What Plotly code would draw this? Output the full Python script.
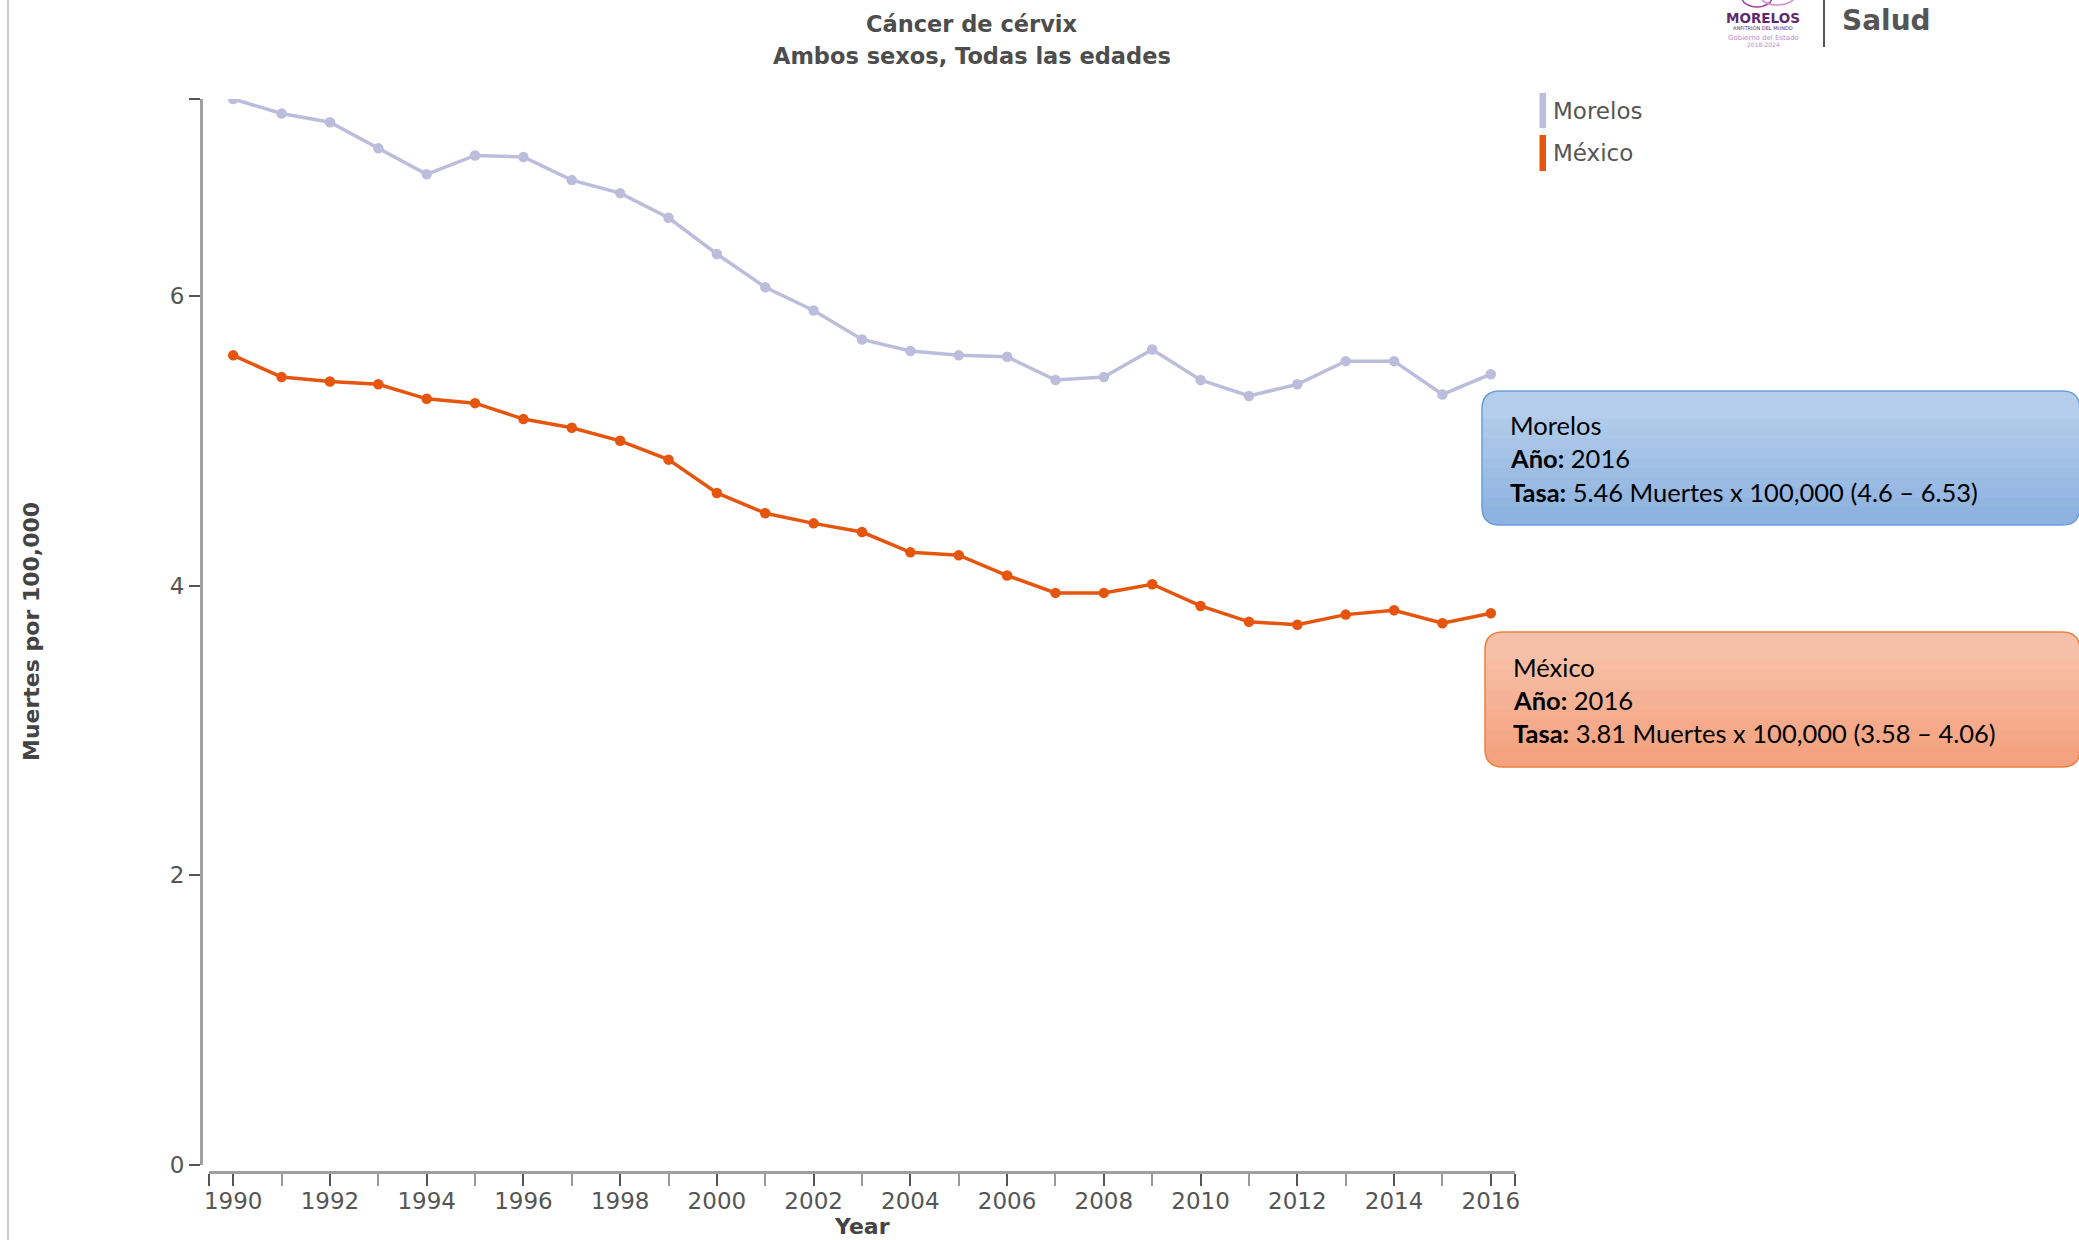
import plotly.graph_objects as go

# datos
years = list(range(1990, 2017))
morelos = [7.36, 7.26, 7.20, 7.02, 6.84, 6.97, 6.96, 6.80, 6.71, 6.54, 6.29, 6.06, 5.90, 5.70,
           5.62, 5.59, 5.58, 5.42, 5.44, 5.63, 5.42, 5.31, 5.39, 5.55, 5.55, 5.32, 5.46]
mexico = [5.59, 5.44, 5.41, 5.39, 5.29, 5.26, 5.15, 5.09, 5.00, 4.87, 4.64, 4.50, 4.43, 4.37,
          4.23, 4.21, 4.07, 3.95, 3.95, 4.01, 3.86, 3.75, 3.73, 3.80, 3.83, 3.74, 3.81]
morelos_ci = (4.6, 6.53)
mexico_ci = (3.58, 4.06)
series_names = ['Morelos', 'México']
y_ticks = [0, 2, 4, 6]
x_tick_years = list(range(1990, 2017, 2))

COLORS = ['#bcbddc', '#e6550d']
TEXT = '#555555'

W, H = 2079, 1240
ML, MR, MT, MB = 201, 564, 99, 68
PW, PH = W - ML - MR, H - MT - MB


def px(x):
    return (x - ML) / PW


def py(y):
    return (H - MB - y) / PH


def box_path(x0, y0, x1, y1, r, round_bottom=True):
    rx, ry = r / PW, r / PH
    X0, X1, Y0, Y1 = px(x0), px(x1), py(y0), py(y1)
    p = f"M {X0 + rx},{Y0} L {X1 - rx},{Y0} Q {X1},{Y0} {X1},{Y0 - ry} "
    if round_bottom:
        p += f"L {X1},{Y1 + ry} Q {X1},{Y1} {X1 - rx},{Y1} L {X0 + rx},{Y1} Q {X0},{Y1} {X0},{Y1 + ry} "
    else:
        p += f"L {X1},{Y1} L {X0},{Y1} "
    p += f"L {X0},{Y0 - ry} Q {X0},{Y0} {X0 + rx},{Y0} Z"
    return p


def mix(c1, c2, t):
    a = [int(c1[i:i + 2], 16) for i in (1, 3, 5)]
    b = [int(c2[i:i + 2], 16) for i in (1, 3, 5)]
    return 'rgb(%d,%d,%d)' % tuple(round(a[k] + (b[k] - a[k]) * t) for k in range(3))


def tooltip_shapes(x0, y0, x1, y1, top, bottom, border, r=18, steps=10):
    # degradado vertical aproximado con capas
    shapes = [dict(type='path', xref='paper', yref='paper', path=box_path(x0, y0, x1, y1, r),
                   fillcolor=bottom, line=dict(width=0), layer='above')]
    for k in range(steps):
        t = k / steps
        yb = y1 - r - (y1 - r - y0 - r) * t
        shapes.append(dict(type='path', xref='paper', yref='paper',
                           path=box_path(x0, y0, x1, yb, r, round_bottom=False),
                           fillcolor=mix(bottom, top, (k + 1) / steps), line=dict(width=0), layer='above'))
    shapes.append(dict(type='path', xref='paper', yref='paper', path=box_path(x0, y0, x1, y1, r),
                       fillcolor='rgba(0,0,0,0)', line=dict(color=border, width=1.5), layer='above'))
    return shapes


fig = go.Figure()
for name, vals, col in zip(series_names, [morelos, mexico], COLORS):
    fig.add_trace(go.Scatter(x=years, y=vals, name=name, mode='lines+markers',
                             line=dict(color=col, width=3.5),
                             marker=dict(color=col, size=10.5), showlegend=False))

shapes = []
# borde gris izquierdo de la captura
shapes.append(dict(type='line', xref='paper', yref='paper', x0=px(8), x1=px(8), y0=py(0), y1=py(H),
                   line=dict(color='#cccccc', width=2)))
# leyenda
shapes.append(dict(type='rect', xref='paper', yref='paper', x0=px(1539.5), x1=px(1546), y0=py(93), y1=py(128),
                   fillcolor=COLORS[0], line=dict(width=0)))
shapes.append(dict(type='rect', xref='paper', yref='paper', x0=px(1539.5), x1=px(1546), y0=py(135), y1=py(171),
                   fillcolor=COLORS[1], line=dict(width=0)))
# logo
shapes.append(dict(type='line', xref='paper', yref='paper', x0=px(1824), x1=px(1824), y0=py(0), y1=py(47),
                   line=dict(color='#555555', width=2)))
shapes.append(dict(type='circle', xref='paper', yref='paper', x0=px(1742), x1=px(1772), y0=py(-12), y1=py(7),
                   line=dict(color='#a43c9c', width=1.5)))
shapes.append(dict(type='circle', xref='paper', yref='paper', x0=px(1760), x1=px(1795), y0=py(-14), y1=py(5),
                   line=dict(color='#d58fcf', width=1.5)))
# cajas de tooltip
shapes += tooltip_shapes(1482, 391, 2080, 525, '#b3cdea', '#8fb3e0', '#6a9fd8')
shapes += tooltip_shapes(1485, 632, 2080, 767, '#f6c0a8', '#f4a27f', '#ee8040')

ann = []
ann.append(dict(text='<b>Cáncer de cérvix</b>', x=px(972), y=py(24),
                font=dict(size=22.5, color='#4d4d4d', family='DejaVu Sans'), xanchor='center', yanchor='middle'))
ann.append(dict(text='<b>Ambos sexos, Todas las edades</b>', x=px(972), y=py(56),
                font=dict(size=22.5, color='#4d4d4d', family='DejaVu Sans'), xanchor='center', yanchor='middle'))
ann.append(dict(text='<b>Muertes por 100,000</b>', x=px(31), y=py(632), textangle=-90,
                font=dict(size=22, color='#444444', family='DejaVu Sans'), xanchor='center', yanchor='middle'))
ann.append(dict(text='<b>Year</b>', x=px(862), y=py(1226),
                font=dict(size=22, color='#444444', family='DejaVu Sans'), xanchor='center', yanchor='middle'))
for name, yc in zip(series_names, [111, 153]):
    ann.append(dict(text=name, x=px(1551), y=py(yc), font=dict(size=23, color=TEXT, family='DejaVu Sans'),
                    xanchor='left', yanchor='middle'))

# logo Morelos / Salud
ann.append(dict(text='<b>MORELOS</b>', x=px(1763), y=py(18), font=dict(size=13.5, color='#5d2a6e', family='DejaVu Sans'),
                xanchor='center', yanchor='middle'))
ann.append(dict(text='ANFITRIÓN DEL MUNDO', x=px(1763), y=py(28), font=dict(size=5, color='#5d2a6e', family='DejaVu Sans'),
                xanchor='center', yanchor='middle'))
ann.append(dict(text='Gobierno del Estado', x=px(1763), y=py(38), font=dict(size=7, color='#c08cd0', family='DejaVu Sans'),
                xanchor='center', yanchor='middle'))
ann.append(dict(text='2018-2024', x=px(1763), y=py(44.5), font=dict(size=6, color='#c08cd0', family='DejaVu Sans'),
                xanchor='center', yanchor='middle'))
ann.append(dict(text='<b>Salud</b>', x=px(1840), y=py(20), font=dict(size=28, color='#555555', family='DejaVu Sans'),
                xanchor='left', yanchor='middle'))

# texto de tooltips
tip_font = dict(size=25.5, color='black', family='Lato')
for name, vals, ci, x0, ys in [(series_names[0], morelos, morelos_ci, 1508, [425, 458, 492]),
                               (series_names[1], mexico, mexico_ci, 1511, [667, 700, 733])]:
    lines = [name, f'<b>Año:</b> {years[-1]}',
             f'<b>Tasa:</b> {vals[-1]:.2f} Muertes x 100,000 ({ci[0]:g} – {ci[1]:.2f})']
    for t, yc in zip(lines, ys):
        ann.append(dict(text=t, x=px(x0), y=py(yc), font=tip_font, xanchor='left', yanchor='middle'))

for a in ann:
    a.update(xref='paper', yref='paper', showarrow=False)

fig.update_layout(
    width=W, height=H,
    margin=dict(l=ML, r=MR, t=MT, b=MB),
    plot_bgcolor='white', paper_bgcolor='white',
    font=dict(family='DejaVu Sans', color=TEXT),
    shapes=shapes, annotations=ann,
    xaxis=dict(domain=[8 / PW, 1], anchor='free', position=0,
               range=[years[0] - 0.5, years[-1] + 0.5],
               tickmode='array',
               tickvals=[years[0] - 0.5] + x_tick_years + [years[-1] + 0.5],
               ticktext=[''] + [str(v) for v in x_tick_years] + [''],
               ticks='outside', ticklen=12, tickwidth=2, tickcolor='#555555',
               minor=dict(tickvals=[y for y in years if y % 2 == 1], ticks='outside', ticklen=12,
                          tickwidth=2, tickcolor='#999999'),
               ticklabelstandoff=-5,
               showline=True, linecolor='#a0a0a0', linewidth=3,
               showgrid=False, zeroline=False,
               tickfont=dict(size=23, color=TEXT, family='DejaVu Sans')),
    yaxis=dict(domain=[7 / PH, 1], anchor='free', position=0,
               range=[0, max(morelos)],
               tickmode='array',
               tickvals=y_ticks + [max(morelos)],
               ticktext=[str(v) for v in y_ticks] + [''],
               ticks='outside', ticklen=11, tickwidth=2, tickcolor='#555555',
               showline=True, linecolor='#a0a0a0', linewidth=3,
               showgrid=False, zeroline=False,
               tickfont=dict(size=23, color=TEXT, family='DejaVu Sans')),
)

fig.write_html("out.html", config={'displayModeBar': False},
               post_script="document.body.style.margin='0';")
